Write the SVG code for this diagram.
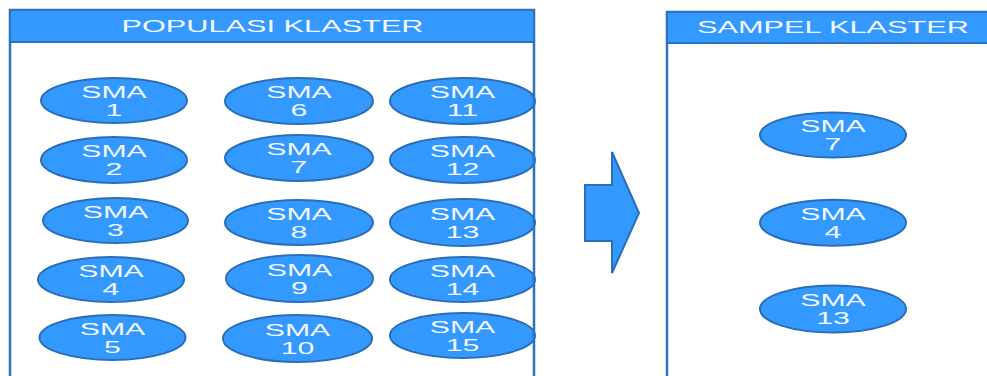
<svg xmlns="http://www.w3.org/2000/svg" width="987" height="376" viewBox="0 0 987 376">
  <style>
    .frame { fill: none; stroke: #2b72c2; stroke-width: 2.5; }
    .head { fill: #3399ff; stroke: #2b72c2; stroke-width: 2; }
    .head-text { font-family: "Liberation Sans", Arial, sans-serif; font-size: 16px; fill: #f4f8ff; text-anchor: middle; }
    .node ellipse { fill: #3399ff; stroke: #2a6db8; stroke-width: 2; }
    .node text { font-family: "Liberation Sans", Arial, sans-serif; font-size: 17px; fill: #f4f8ff; text-anchor: middle; }
    .arrow { fill: #3399ff; stroke: #2a6db8; stroke-width: 2; stroke-linejoin: miter; }
  </style>

  <rect width="987" height="376" fill="#ffffff"/>

  <!-- population nodes -->
  <g id="sma1" class="node" transform="translate(114 100.5)"><ellipse rx="73" ry="22.5"/><g transform="scale(1.78 1)"><text y="-3">SMA</text><text y="15.5">1</text></g></g>
  <g id="sma2" class="node" transform="translate(114 160)"><ellipse rx="73" ry="23"/><g transform="scale(1.78 1)"><text y="-3">SMA</text><text y="15.5">2</text></g></g>
  <g id="sma3" class="node" transform="translate(115.5 220.5)"><ellipse rx="72.5" ry="22.5"/><g transform="scale(1.78 1)"><text y="-3">SMA</text><text y="15.5">3</text></g></g>
  <g id="sma4" class="node" transform="translate(111 279.5)"><ellipse rx="73" ry="22.5"/><g transform="scale(1.78 1)"><text y="-3">SMA</text><text y="15.5">4</text></g></g>
  <g id="sma5" class="node" transform="translate(112.5 337.5)"><ellipse rx="73" ry="22.5"/><g transform="scale(1.78 1)"><text y="-3">SMA</text><text y="15.5">5</text></g></g>

  <g id="sma6" class="node" transform="translate(299 101)"><ellipse rx="74" ry="23"/><g transform="scale(1.78 1)"><text y="-3">SMA</text><text y="15.5">6</text></g></g>
  <g id="sma7" class="node" transform="translate(299 158)"><ellipse rx="74" ry="23"/><g transform="scale(1.78 1)"><text y="-3">SMA</text><text y="15.5">7</text></g></g>
  <g id="sma8" class="node" transform="translate(299 222.5)"><ellipse rx="74" ry="22.5"/><g transform="scale(1.78 1)"><text y="-3">SMA</text><text y="15.5">8</text></g></g>
  <g id="sma9" class="node" transform="translate(299.5 278.5)"><ellipse rx="73.5" ry="23.5"/><g transform="scale(1.78 1)"><text y="-3">SMA</text><text y="15.5">9</text></g></g>
  <g id="sma10" class="node" transform="translate(297.5 338.5)"><ellipse rx="74.5" ry="23.5"/><g transform="scale(1.78 1)"><text y="-3">SMA</text><text y="15.5">10</text></g></g>

  <g id="sma11" class="node" transform="translate(462.5 101)"><ellipse rx="72.5" ry="23"/><g transform="scale(1.78 1)"><text y="-3">SMA</text><text y="15.5">11</text></g></g>
  <g id="sma12" class="node" transform="translate(462.5 160)"><ellipse rx="72.5" ry="23"/><g transform="scale(1.78 1)"><text y="-3">SMA</text><text y="15.5">12</text></g></g>
  <g id="sma13" class="node" transform="translate(462.5 222.5)"><ellipse rx="72.5" ry="23.5"/><g transform="scale(1.78 1)"><text y="-3">SMA</text><text y="15.5">13</text></g></g>
  <g id="sma14" class="node" transform="translate(462.5 279.5)"><ellipse rx="72.5" ry="22.5"/><g transform="scale(1.78 1)"><text y="-3">SMA</text><text y="15.5">14</text></g></g>
  <g id="sma15" class="node" transform="translate(462.5 335.5)"><ellipse rx="72.5" ry="22.5"/><g transform="scale(1.78 1)"><text y="-3">SMA</text><text y="15.5">15</text></g></g>

  <!-- sampled nodes -->
  <g id="sampel-sma7" class="node" transform="translate(833 135)"><ellipse rx="73" ry="22.5"/><g transform="scale(1.78 1)"><text y="-3">SMA</text><text y="15.5">7</text></g></g>
  <g id="sampel-sma4" class="node" transform="translate(833 222.7)"><ellipse rx="73" ry="23"/><g transform="scale(1.78 1)"><text y="-3">SMA</text><text y="15.5">4</text></g></g>
  <g id="sampel-sma13" class="node" transform="translate(833 309)"><ellipse rx="73" ry="23.5"/><g transform="scale(1.78 1)"><text y="-3">SMA</text><text y="15.5">13</text></g></g>

  <!-- population panel: border drawn over the nodes that touch it -->
  <g id="populasi">
    <path class="frame" d="M10 390 V10 H534 V390"/>
    <rect class="head" x="10" y="10" width="524" height="32"/>
    <text class="head-text" transform="translate(272.5 32) scale(1.92 1)">POPULASI KLASTER</text>
  </g>

  <!-- sample panel -->
  <g id="sampel">
    <path class="frame" d="M667 390 V12 H1000"/>
    <rect class="head" x="667" y="12" width="340" height="31"/>
    <text class="head-text" transform="translate(833 33) scale(1.92 1)">SAMPEL KLASTER</text>
  </g>

  <!-- connectors: block arrow from population to sample -->
  <g id="connectors">
    <polygon class="arrow" points="585,185 612,185 612,152 639,213 612,273 612,241 585,241"/>
  </g>
</svg>
